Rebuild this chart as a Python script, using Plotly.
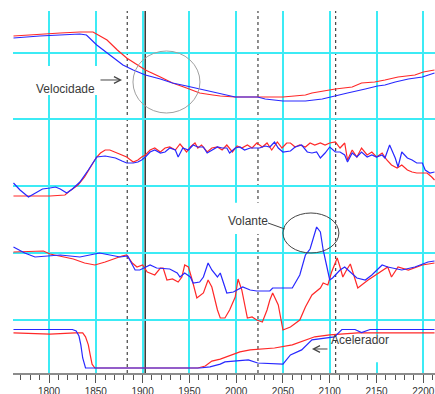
import plotly.graph_objects as go

# ---------------------------------------------------------------------------
# Lap data, plotted against track distance (m); two laps: red and blue
# ---------------------------------------------------------------------------

# Velocidade (km/h)
dist_vel_red = [1762, 1790, 1812, 1833, 1847, 1862, 1873, 1883, 1903, 1919, 1932, 1947, 1961, 1975,
                1983, 1999, 2023, 2050, 2074, 2081, 2106, 2124, 2134, 2148, 2159, 2173, 2191, 2200, 2212]
vel_red = [104, 106, 107, 108, 108, 100, 90, 82, 70, 63, 57, 52, 47, 45,
           44, 43, 43, 43, 45, 47, 51, 53, 57, 58, 60, 63, 65, 68, 70]

dist_vel_blue = [1762, 1790, 1833, 1840, 1851, 1865, 1879, 1890, 1903, 1919, 1932, 1947, 1961, 1983,
                 1999, 2023, 2031, 2050, 2074, 2092, 2102, 2119, 2138, 2151, 2159, 2170, 2184, 2199, 2212]
vel_blue = [102, 104, 106, 105, 95, 85, 75, 70, 65, 61, 57, 54, 51, 47,
            43, 43, 41, 39, 39, 41, 43, 47, 51, 54, 55, 58, 61, 63, 67]

# Second channel (unlabelled trace)
dist_ch2_red = [1762, 1801, 1817, 1822, 1831, 1838, 1847, 1851, 1855, 1860, 1865, 1870, 1876, 1883,
                1890, 1895, 1899, 1903, 1908, 1913, 1919, 1924, 1929, 1935, 1940, 1943, 1947, 1951,
                1956, 1959, 1963, 1969, 1974, 1980, 1985, 1990, 1996, 2001, 2006, 2012, 2017, 2022,
                2028, 2033, 2038, 2044, 2049, 2054, 2058, 2063, 2068, 2074, 2079, 2084, 2090, 2095,
                2100, 2106, 2111, 2116, 2119, 2124, 2129, 2134, 2140, 2145, 2150, 2156, 2161, 2166,
                2172, 2177, 2183, 2188, 2193, 2199, 2204, 2209, 2212]
ch2_red = [4, 4, 5, 9, 15, 23, 37, 43, 47, 50, 50, 48, 45, 43,
           38, 40, 43, 45, 50, 52, 48, 52, 53, 50, 56, 53, 48, 53,
           57, 52, 55, 48, 52, 53, 50, 55, 48, 54, 52, 55, 52, 57,
           53, 57, 50, 58, 52, 57, 57, 53, 55, 53, 57, 55, 57, 55,
           57, 58, 52, 57, 40, 50, 43, 52, 45, 48, 43, 47, 40, 35,
           32, 35, 30, 28, 27, 27, 27, 23, 20]

dist_ch2_blue = [1762, 1769, 1778, 1785, 1793, 1801, 1807, 1812, 1819, 1825, 1833, 1842, 1851, 1860,
                 1871, 1878, 1883, 1890, 1895, 1899, 1903, 1908, 1913, 1919, 1924, 1929, 1935, 1938,
                 1943, 1949, 1954, 1959, 1965, 1969, 1974, 1980, 1985, 1990, 1993, 1999, 2004, 2009,
                 2015, 2020, 2025, 2031, 2036, 2041, 2045, 2050, 2058, 2063, 2070, 2076, 2081, 2086,
                 2090, 2095, 2100, 2106, 2111, 2116, 2119, 2124, 2129, 2134, 2140, 2145, 2150, 2156,
                 2159, 2164, 2170, 2173, 2177, 2183, 2188, 2193, 2199, 2202, 2207, 2212]
ch2_blue = [17, 10, 3, 7, 11, 12, 13, 11, 7, 11, 18, 30, 43, 44,
            42, 39, 37, 37, 38, 40, 43, 48, 50, 47, 48, 52, 50, 43,
            52, 50, 55, 53, 53, 47, 50, 53, 52, 52, 47, 52, 53, 50,
            52, 52, 52, 54, 53, 58, 52, 48, 49, 53, 55, 48, 47, 48,
            42, 47, 53, 48, 48, 45, 38, 47, 43, 48, 43, 45, 43, 45,
            42, 55, 42, 33, 48, 42, 40, 37, 37, 30, 27, 28]

# Volante (steering angle, deg)
dist_vol_red = [1762, 1794, 1801, 1812, 1826, 1838, 1849, 1860, 1871, 1878, 1883, 1889, 1894, 1900,
                1905, 1913, 1919, 1922, 1926, 1932, 1938, 1942, 1945, 1949, 1953, 1958, 1965, 1970,
                1974, 1980, 1983, 1988, 1993, 1999, 2002, 2006, 2012, 2017, 2022, 2028, 2033, 2036,
                2039, 2045, 2050, 2058, 2068, 2074, 2081, 2090, 2093, 2098, 2102, 2108, 2111, 2114,
                2118, 2122, 2125, 2130, 2141, 2152, 2162, 2166, 2173, 2184, 2199, 2212]
vol_red = [8, 9, 6, 4, 1, -3, -5, -2, 2, 4, 5, -3, -7, -5,
           -12, -15, -8, -8, -20, -19, -22, -17, -5, -7, -20, -38, -33, -20,
           -27, -50, -58, -58, -50, -37, -19, -30, -58, -57, -60, -62, -50, -40,
           -33, -45, -70, -67, -60, -47, -35, -28, -23, -25, -12, 2, -7, -17,
           -10, -4, -13, -28, -20, -13, -7, -17, -7, -10, -5, -3]

dist_vol_blue = [1762, 1774, 1785, 1812, 1833, 1854, 1876, 1884, 1892, 1897, 1908, 1915, 1929, 1937,
                 1940, 1945, 1951, 1954, 1961, 1965, 1970, 1974, 1980, 1983, 1990, 1997, 2007, 2015,
                 2022, 2036, 2039, 2060, 2068, 2074, 2079, 2083, 2086, 2090, 2093, 2097, 2100, 2103,
                 2111, 2116, 2122, 2129, 2138, 2145, 2156, 2162, 2177, 2191, 2205, 2212]
vol_blue = [13, 7, 3, 5, 3, 7, 3, 4, -10, -10, -5, -8, -9, -13,
            -17, -13, -17, -23, -22, -17, -3, -10, -17, -13, -33, -32, -27, -30,
            -31, -31, -28, -28, -15, 5, 11, 24, 33, 28, 10, -7, -20, -18,
            -10, -7, -12, -18, -20, -15, -5, -7, -10, -7, -2, -1]

# Acelerador (throttle, %)
dist_acc_red = [1762, 1790, 1801, 1828, 1836, 1839, 1842, 1844, 1846, 1849, 1959, 1967,
                1974, 1983, 2004, 2015, 2041, 2060, 2074, 2084, 2100, 2109, 2130, 2212]
acc_red = [91, 88, 88, 91, 91, 81, 60, 34, 10, 0, 0, 5,
           18, 23, 42, 47, 52, 60, 73, 81, 86, 88, 91, 91]

dist_acc_blue = [1762, 1825, 1829, 1832, 1834, 1836, 1839, 1961, 1972, 1983, 1988, 2013,
                 2023, 2050, 2058, 2070, 2081, 2105, 2113, 2127, 2134, 2143, 2212]
acc_blue = [100, 100, 96, 83, 60, 26, 0, 0, 3, 10, 16, 21,
            13, 10, 34, 47, 73, 81, 100, 100, 92, 100, 100]

# Markers along the lap
dotted_marks = [1883.6, 2023.3, 2106.3]
cursor_mark = 1902.8

RED = "rgb(255,40,40)"
BLUE = "rgb(40,40,255)"
CYAN = "rgb(60,235,245)"
FONT = "Liberation Sans, Arial, sans-serif"

fig = go.Figure()


def add_lap(x, y, color, axis):
    fig.add_trace(go.Scatter(x=x, y=y, mode="lines", yaxis=axis,
                             line=dict(color=color, width=1.2),
                             hoverinfo="skip", showlegend=False))


# the unlabelled channel lives on the base y axis, the others are overlays
add_lap(dist_ch2_red, ch2_red, RED, "y")
add_lap(dist_ch2_blue, ch2_blue, BLUE, "y")
add_lap(dist_vel_red, vel_red, RED, "y2")
add_lap(dist_vel_blue, vel_blue, BLUE, "y2")
add_lap(dist_vol_red, vol_red, RED, "y3")
add_lap(dist_vol_blue, vol_blue, BLUE, "y3")
add_lap(dist_acc_red, acc_red, RED, "y4")
add_lap(dist_acc_blue, acc_blue, BLUE, "y4")

shapes = []
for d in dotted_marks:
    shapes.append(dict(type="line", xref="x", yref="paper", x0=d, x1=d, y0=0, y1=1,
                       line=dict(color="#444", width=1.2, dash="dot"), layer="between"))
shapes.append(dict(type="line", xref="x", yref="paper", x0=cursor_mark, x1=cursor_mark, y0=0, y1=1,
                   line=dict(color="#333", width=1.5), layer="between"))

# white backing behind the channel captions (kept clear of the traces)
for x0, x1, y0, y1 in [(1779.7, 1880.1, 0.768, 0.848),
                       (1984.8, 2038.2, 0.384, 0.470),
                       (2108.7, 2170.7, 0.030, 0.105)]:
    shapes.append(dict(type="rect", xref="x", yref="paper", x0=x0, x1=x1, y0=y0, y1=y1,
                       fillcolor="white", line=dict(width=0), layer="above"))

# highlight rings
shapes.append(dict(type="circle", xref="x", yref="paper", x0=1889.7, x1=1961.3, y0=0.7182, y1=0.8895,
                   line=dict(color="#a0a0a0", width=1), layer="above"))
shapes.append(dict(type="circle", xref="x", yref="paper", x0=2050.0, x1=2109.8, y0=0.3315, y1=0.442,
                   line=dict(color="#444", width=1), layer="above"))
shapes.append(dict(type="line", xref="x", yref="paper", x0=2034.0, x1=2052.0, y0=0.4144, y1=0.3978,
                   line=dict(color="#444", width=1), layer="above"))

label_font = dict(family=FONT, size=12, color="#3a3a3a")
annotations = [
    dict(text="Velocidade", x=1818.1, y=0.8094, xref="x", yref="paper", showarrow=False, font=label_font),
    dict(text="", x=1878.0, y=0.8094, xref="x", yref="paper", showarrow=True, ax=-23, ay=0,
         arrowhead=5, arrowsize=1.3, arrowwidth=1, arrowcolor="#444"),
    dict(text="Volante", x=2012.6, y=0.4199, xref="x", yref="paper", showarrow=False, font=label_font),
    dict(text="Acelerador", x=2132.8, y=0.0663, xref="x", yref="paper", showarrow=False, font=label_font),
    dict(text="", x=2081.0, y=0.0663, xref="x", yref="paper", showarrow=True, ax=17, ay=0,
         arrowhead=5, arrowsize=1.3, arrowwidth=1, arrowcolor="#444"),
]

hidden = dict(overlaying="y", showgrid=False, zeroline=False, showticklabels=False,
              ticks="", showline=False, fixedrange=True, automargin=False)
fig.update_layout(
    template="none",
    width=435, height=394,
    margin=dict(l=13, r=0, t=11, b=21, pad=0, autoexpand=False),
    paper_bgcolor="white", plot_bgcolor="rgba(0,0,0,0)",
    showlegend=False,
    font=dict(family=FONT),
    xaxis=dict(range=[1761.5, 2212.5], tick0=1800, dtick=50, automargin=False,
               showgrid=True, gridcolor=CYAN, gridwidth=1.5, zeroline=False,
               showline=True, linecolor="#8c8c8c", linewidth=2,
               ticks="outside", ticklen=8, tickwidth=1, tickcolor="#555",
               ticklabelstandoff=0, ticklabeloverflow="allow",
               minor=dict(tick0=1800, dtick=10, ticks="outside", ticklen=5,
                          tickwidth=1, tickcolor="#555", showgrid=False),
               tickfont=dict(family=FONT, size=10, color="#333")),
    # base axis: 1 unit per pixel, grid every 66.75 units gives the horizontal guides
    yaxis=dict(range=[-173, 189], tick0=14, dtick=66.75, showgrid=True, gridcolor=CYAN,
               gridwidth=2, zeroline=False, showticklabels=False, ticks="", showline=False,
               fixedrange=True, automargin=False),
    yaxis2=dict(range=[-233, 129], **hidden),
    yaxis3=dict(range=[-113, 249], **hidden),
    yaxis4=dict(range=[-12.99, 927.27], **hidden),
    shapes=shapes,
    annotations=annotations,
)

fig.write_html("out.html")
